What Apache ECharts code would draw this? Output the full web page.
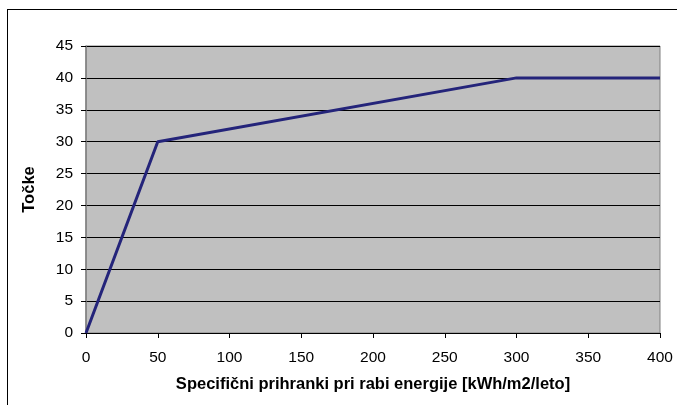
<!DOCTYPE html>
<html>
<head>
<meta charset="utf-8">
<script src="https://cdn.jsdelivr.net/npm/echarts@6/dist/echarts.min.js"></script>
<style>
html,body{margin:0;padding:0;background:#fff;}
#frame{position:absolute;left:7px;top:9px;width:700px;height:420px;border:1px solid #000;box-sizing:border-box;}
#c{position:absolute;left:0;top:0;width:677px;height:405px;}
</style>
</head>
<body>
<div id="frame"></div>
<div id="c"></div>
<script>
var xValues = [0, 50, 300, 400];
var yValues = [0, 30, 40, 40];
var xTitle = 'Specifični prihranki pri rabi energije [kWh/m2/leto]';
var yTitle = 'Točke';

var chart = echarts.init(document.getElementById('c'));
var data = xValues.map(function (x, i) { return [x, yValues[i]]; });
var font = 'Liberation Sans, Arial, sans-serif';
chart.setOption({
  animation: false,
  grid: {left: 86, right: 17, top: 46, bottom: 72, show: true, backgroundColor: '#C0C0C0', borderColor: '#808080', borderWidth: 1},
  xAxis: {
    type: 'value', min: 0, max: 400, interval: 50,
    name: xTitle, nameLocation: 'middle', nameGap: 43,
    nameTextStyle: {fontFamily: font, fontSize: 16.5, fontWeight: 'bold', color: '#000'},
    axisLine: {lineStyle: {color: '#000', width: 1}},
    axisTick: {show: true, length: 5, lineStyle: {color: '#000'}},
    axisLabel: {fontFamily: font, fontSize: 15.5, color: '#000', margin: 17},
    splitLine: {show: false}
  },
  yAxis: {
    type: 'value', min: 0, max: 45, interval: 5,
    name: yTitle, nameLocation: 'middle', nameGap: 48, nameRotate: 90,
    nameTextStyle: {fontFamily: font, fontSize: 16.5, fontWeight: 'bold', color: '#000'},
    axisLine: {show: true, lineStyle: {color: '#808080', width: 1.5}},
    axisTick: {show: true, length: 5, lineStyle: {color: '#000'}},
    axisLabel: {fontFamily: font, fontSize: 15.5, color: '#000', margin: 13},
    splitLine: {show: true, lineStyle: {color: '#000', width: 1}}
  },
  series: [{
    type: 'line', data: data, symbol: 'none',
    lineStyle: {color: '#24247A', width: 3},
    clip: false
  }]
});
</script>
</body>
</html>
